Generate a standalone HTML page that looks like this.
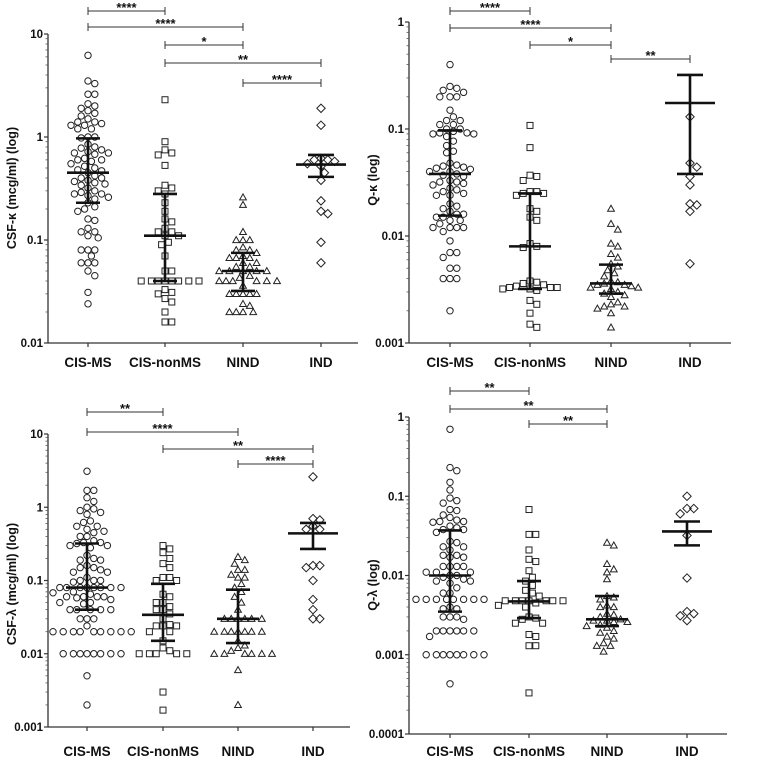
<!DOCTYPE html>
<html><head><meta charset="utf-8">
<style>
html,body{margin:0;padding:0;background:#fff;}
svg{display:block;font-family:"Liberation Sans",Arial,sans-serif;}
</style></head>
<body>
<svg id="chart" width="768" height="761" viewBox="0 0 768 761" xmlns="http://www.w3.org/2000/svg"></svg>
<script>
// ---------- DATA ----------
const categories = ["CIS-MS","CIS-nonMS","NIND","IND"];

// Panel A: CSF-kappa
const aCisMs = [6.2,3.5,3.3,2.6,2.6,2.1,2.0,1.9,1.8,1.7,1.6,1.5,1.4,1.4,1.35,1.3,1.3,1.2,1.2,1.0,1.0,0.98,0.85,0.8,0.78,0.75,0.72,0.7,0.7,0.68,0.62,0.6,0.6,0.58,0.55,0.52,0.5,0.48,0.47,0.45,0.42,0.4,0.4,0.38,0.37,0.36,0.35,0.34,0.32,0.3,0.29,0.28,0.28,0.27,0.26,0.25,0.23,0.21,0.2,0.19,0.16,0.155,0.13,0.12,0.12,0.11,0.105,0.08,0.08,0.08,0.07,0.06,0.06,0.06,0.05,0.045,0.031,0.024];
const aCisNon = [2.3,0.9,0.75,0.7,0.67,0.53,0.34,0.32,0.3,0.28,0.23,0.19,0.16,0.15,0.13,0.12,0.12,0.11,0.11,0.095,0.09,0.07,0.05,0.05,0.04,0.04,0.04,0.04,0.04,0.04,0.04,0.04,0.033,0.031,0.03,0.027,0.025,0.02,0.016,0.016];
const aNind = [0.26,0.22,0.12,0.1,0.1,0.1,0.085,0.08,0.08,0.075,0.07,0.067,0.067,0.067,0.06,0.06,0.055,0.055,0.05,0.05,0.05,0.05,0.05,0.045,0.043,0.04,0.04,0.04,0.04,0.04,0.04,0.036,0.03,0.03,0.03,0.03,0.03,0.024,0.023,0.02,0.02,0.02,0.02];
const aInd = [1.9,1.3,0.62,0.6,0.6,0.58,0.55,0.52,0.45,0.38,0.24,0.19,0.18,0.095,0.06];
const aCenter = [0.45,0.11,0.05,0.54];
const aLow = [0.23,0.04,0.032,0.41];
const aHigh = [0.97,0.28,0.075,0.67];
const aTicks = ["10","1","0.1","0.01"];

// Panel B: Q-kappa
const bCisMs = [0.4,0.25,0.24,0.23,0.22,0.2,0.2,0.2,0.15,0.13,0.12,0.12,0.11,0.11,0.1,0.1,0.095,0.092,0.092,0.09,0.09,0.085,0.077,0.07,0.062,0.06,0.048,0.046,0.045,0.044,0.043,0.042,0.04,0.04,0.038,0.037,0.036,0.033,0.032,0.032,0.031,0.03,0.028,0.027,0.026,0.025,0.024,0.024,0.02,0.019,0.018,0.017,0.016,0.016,0.015,0.015,0.014,0.014,0.013,0.012,0.012,0.012,0.012,0.011,0.009,0.007,0.007,0.0063,0.005,0.005,0.004,0.004,0.004,0.002];
const bCisNon = [0.108,0.067,0.037,0.036,0.033,0.026,0.026,0.025,0.025,0.024,0.018,0.017,0.015,0.014,0.0085,0.008,0.0078,0.0038,0.0037,0.0036,0.0035,0.0034,0.0033,0.0033,0.0033,0.0032,0.0032,0.0031,0.0025,0.0023,0.0019,0.0015,0.0014];
const bNind = [0.018,0.013,0.0115,0.0085,0.008,0.0068,0.0063,0.0055,0.0052,0.0048,0.0045,0.0042,0.0038,0.0037,0.0036,0.0035,0.0035,0.0034,0.0033,0.0033,0.0032,0.003,0.0029,0.0028,0.0027,0.0024,0.0023,0.0022,0.0022,0.0021,0.0019,0.0014];
const bInd = [0.13,0.048,0.044,0.036,0.03,0.02,0.0195,0.017,0.0055];
const bCenter = [0.038,0.008,0.0036,0.175];
const bLow = [0.0155,0.0032,0.0029,0.038];
const bHigh = [0.097,0.025,0.0054,0.32];
const bTicks = ["1","0.1","0.01","0.001"];

// Panel C: CSF-lambda
const cCisMs = [3.1,1.7,1.7,1.35,1.2,1.0,0.95,0.9,0.85,0.8,0.65,0.62,0.55,0.55,0.5,0.47,0.45,0.4,0.4,0.35,0.33,0.33,0.32,0.3,0.3,0.28,0.22,0.2,0.19,0.19,0.16,0.15,0.15,0.14,0.13,0.13,0.11,0.1,0.1,0.1,0.095,0.08,0.08,0.08,0.08,0.08,0.08,0.08,0.08,0.07,0.068,0.065,0.06,0.06,0.06,0.06,0.058,0.055,0.05,0.05,0.048,0.04,0.04,0.04,0.04,0.04,0.03,0.03,0.03,0.024,0.02,0.02,0.02,0.02,0.02,0.02,0.02,0.02,0.02,0.01,0.01,0.01,0.01,0.01,0.01,0.01,0.01,0.005,0.002];
const cCisNon = [0.3,0.27,0.24,0.2,0.17,0.15,0.11,0.11,0.1,0.1,0.065,0.06,0.05,0.05,0.044,0.04,0.04,0.035,0.03,0.025,0.024,0.024,0.024,0.02,0.02,0.015,0.012,0.011,0.01,0.01,0.01,0.01,0.01,0.003,0.0017];
const cNind = [0.21,0.19,0.17,0.14,0.14,0.12,0.11,0.11,0.09,0.08,0.07,0.06,0.05,0.04,0.03,0.03,0.03,0.03,0.03,0.03,0.02,0.02,0.02,0.02,0.02,0.02,0.02,0.015,0.013,0.012,0.011,0.01,0.01,0.01,0.01,0.01,0.01,0.006,0.002];
const cInd = [2.6,0.7,0.67,0.55,0.5,0.5,0.16,0.15,0.16,0.1,0.055,0.04,0.03,0.03];
const cCenter = [0.08,0.034,0.03,0.44];
const cLow = [0.04,0.015,0.014,0.27];
const cHigh = [0.32,0.09,0.075,0.61];
const cTicks = ["10","1","0.1","0.01","0.001"];

// Panel D: Q-lambda
const dCisMs = [0.7,0.23,0.21,0.15,0.12,0.095,0.088,0.082,0.068,0.066,0.058,0.054,0.05,0.048,0.048,0.047,0.042,0.04,0.038,0.038,0.035,0.027,0.026,0.023,0.023,0.021,0.018,0.018,0.017,0.017,0.013,0.013,0.013,0.013,0.011,0.011,0.011,0.01,0.01,0.0095,0.009,0.0085,0.0085,0.008,0.007,0.006,0.006,0.005,0.005,0.005,0.005,0.005,0.005,0.005,0.005,0.004,0.0038,0.0038,0.003,0.003,0.003,0.0028,0.002,0.002,0.002,0.002,0.002,0.002,0.0017,0.001,0.001,0.001,0.001,0.001,0.001,0.001,0.001,0.00043];
const dCisNon = [0.068,0.033,0.033,0.021,0.016,0.015,0.0115,0.0095,0.0085,0.0075,0.0065,0.006,0.0055,0.0048,0.0048,0.0048,0.0048,0.0048,0.0048,0.0048,0.0045,0.0042,0.004,0.003,0.0029,0.0028,0.0025,0.0025,0.0018,0.0017,0.0013,0.0013,0.00033];
const dNind = [0.026,0.024,0.014,0.012,0.011,0.009,0.0055,0.0053,0.005,0.0042,0.004,0.004,0.0033,0.0032,0.003,0.0028,0.0027,0.0027,0.0026,0.0026,0.0024,0.0023,0.0022,0.002,0.0019,0.0017,0.0016,0.0014,0.0013,0.0013,0.0011];
const dInd = [0.1,0.07,0.07,0.06,0.032,0.0093,0.0035,0.0033,0.0031,0.0027];
const dCenter = [0.01,0.0047,0.0028,0.036];
const dLow = [0.0035,0.0029,0.0023,0.024];
const dHigh = [0.037,0.0085,0.0055,0.048];
const dTicks = ["1","0.1","0.01","0.001","0.0001"];

// ---------- LAYOUT ----------
const panels = [
 {id:"csf-kappa", title:"CSF-κ (mcg/ml) (log)", groups:[aCisMs,aCisNon,aNind,aInd], center:aCenter, low:aLow, high:aHigh, ticks:aTicks,
  ax:48, xEnd:358, yTop:34, yBot:343, maxExp:1, minExp:-2, cx:[88,165,243,321], titleX:12, titleY:188, labelY:367,
  brackets:[[0,1,"****",11],[0,2,"****",27],[1,2,"*",45],[1,3,"**",63],[2,3,"****",83]]},
 {id:"q-kappa", title:"Q-κ (log)", groups:[bCisMs,bCisNon,bNind,bInd], center:bCenter, low:bLow, high:bHigh, ticks:bTicks,
  ax:409, xEnd:731, yTop:22, yBot:343, maxExp:0, minExp:-3, cx:[450,530,611,690], titleX:373, titleY:180, labelY:367,
  brackets:[[0,1,"****",11],[0,2,"****",28],[1,2,"*",45],[2,3,"**",59]]},
 {id:"csf-lambda", title:"CSF-λ (mcg/ml) (log)", groups:[cCisMs,cCisNon,cNind,cInd], center:cCenter, low:cLow, high:cHigh, ticks:cTicks,
  ax:48, xEnd:350, yTop:434, yBot:727, maxExp:1, minExp:-3, cx:[87,163,238,313], titleX:12, titleY:584, labelY:756,
  brackets:[[0,1,"**",412],[0,2,"****",432],[1,3,"**",449],[2,3,"****",464]]},
 {id:"q-lambda", title:"Q-λ (log)", groups:[dCisMs,dCisNon,dNind,dInd], center:dCenter, low:dLow, high:dHigh, ticks:dTicks,
  ax:409, xEnd:727, yTop:417, yBot:734, maxExp:0, minExp:-4, cx:[450,529,607,687], titleX:373, titleY:585, labelY:756,
  brackets:[[0,1,"**",391],[0,2,"**",409],[1,2,"**",424]]}
];

const NS="http://www.w3.org/2000/svg";
const svg=document.getElementById('chart');
function mk(tag,attrs,parent){const e=document.createElementNS(NS,tag);for(const k in attrs)e.setAttribute(k,attrs[k]);parent.appendChild(e);return e;}

panels.forEach(p=>{
  const g=mk('g',{},svg);
  
  
  const yScale=v=>p.yTop+(p.maxExp-Math.log10(v))/(p.maxExp-p.minExp)*(p.yBot-p.yTop);
  const yAxis=mk('line',{x1:p.ax,y1:p.yTop,x2:p.ax,y2:p.yBot,stroke:'#333','stroke-width':1.3},g);
  
  
  const xAxis=mk('line',{x1:p.ax,y1:p.yBot,x2:p.xEnd,y2:p.yBot,stroke:'#333','stroke-width':1.3},g);
  
  
  for(let e=p.maxExp;e>=p.minExp;e--){
    const y=yScale(Math.pow(10,e));
    mk('line',{x1:p.ax-4,y1:y,x2:p.ax,y2:y,stroke:'#333','stroke-width':1.2},g);
    const t=mk('text',{x:p.ax-5,y:y+4,'text-anchor':'end','font-size':11.5,'font-weight':'bold',fill:'#111'},g);
    t.textContent=p.ticks[p.maxExp-e];
    
    
    if(e>p.minExp){for(let m=2;m<=9;m++){const ym=yScale(m*Math.pow(10,e-1));mk('line',{x1:p.ax-2.5,y1:ym,x2:p.ax,y2:ym,stroke:'#555','stroke-width':0.8},g);}}
  }
  const tt=mk('text',{x:p.titleX,y:p.titleY,'text-anchor':'middle','font-size':12.5,'font-weight':'bold',fill:'#111',transform:`rotate(-90 ${p.titleX} ${p.titleY})`,'dominant-baseline':'central'},g);
  tt.textContent=p.title;
  
  
  categories.forEach((c,i)=>{
    mk('line',{x1:p.cx[i],y1:p.yBot,x2:p.cx[i],y2:p.yBot+4,stroke:'#333','stroke-width':1.2},g);
    const l=mk('text',{x:p.cx[i],y:p.labelY,'text-anchor':'middle','font-size':13.5,'font-weight':'bold',fill:'#111'},g);
    l.textContent=c;
    
    
  });
  p.groups.forEach((vals,gi)=>{
    const placed=[];
    const sorted=vals.slice().sort((a,b)=>b-a);
    sorted.forEach(v=>{
      const y=yScale(v);
      let off=0;
      for(let k=0;k<60;k++){
        const cand=(k===0)?0:((k%2?1:-1)*Math.ceil(k/2)*3.4);
        if(placed.every(q=>Math.hypot(q[0]-cand,q[1]-y)>=6.8)){off=cand;break;}
      }
      placed.push([off,y]);
      const x=p.cx[gi]+off;
      let m;
      if(gi===0) m=mk('circle',{cx:x,cy:y,r:3.2,fill:'none',stroke:'#222','stroke-width':1},g);
      else if(gi===1) m=mk('rect',{x:x-3,y:y-3,width:6,height:6,fill:'none',stroke:'#222','stroke-width':1},g);
      else if(gi===2) m=mk('polygon',{points:`${x},${y-3.4} ${x+3.4},${y+2.6} ${x-3.4},${y+2.6}`,fill:'none',stroke:'#222','stroke-width':1},g);
      else m=mk('polygon',{points:`${x},${y-4.2} ${x+4.2},${y} ${x},${y+4.2} ${x-4.2},${y}`,fill:'none',stroke:'#222','stroke-width':1},g);
      
      
    });
    const cx=p.cx[gi], hw=gi===3?25:21, cw=gi===3?13:12;
    const yc=yScale(p.center[gi]), yl=yScale(p.low[gi]), yh=yScale(p.high[gi]);
    const sg=mk('g',{stroke:'#111','stroke-width':2.6},g);
    
    
    mk('line',{x1:cx,y1:yh,x2:cx,y2:yl},sg);
    mk('line',{x1:cx-hw,y1:yc,x2:cx+hw,y2:yc},sg);
    mk('line',{x1:cx-cw,y1:yh,x2:cx+cw,y2:yh},sg);
    mk('line',{x1:cx-cw,y1:yl,x2:cx+cw,y2:yl},sg);
  });
  p.brackets.forEach(b=>{
    const x1=p.cx[b[0]], x2=p.cx[b[1]], y=b[3];
    const bg=mk('g',{},g);
    
    
    mk('path',{d:`M${x1},${y+4}V${y-4}M${x1},${y}H${x2}M${x2},${y+4}V${y-4}`,stroke:'#333','stroke-width':1,fill:'none'},bg);
    const t=mk('text',{x:(x1+x2)/2,y:y+1,'text-anchor':'middle','font-size':13,'font-weight':'bold',fill:'#111'},bg);
    t.textContent=b[2];
  });
});
</script>
</body></html>
